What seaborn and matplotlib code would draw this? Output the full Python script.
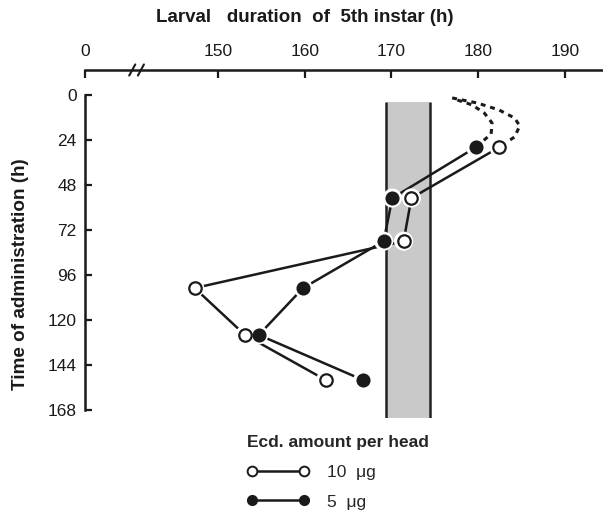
import matplotlib
matplotlib.use("Agg")
import matplotlib.pyplot as plt
import seaborn as sns
import pandas as pd
from matplotlib.lines import Line2D

# ---- data ----
time_h = [28, 55, 78, 103, 128, 152]
dur_10ug = [182.4, 172.3, 171.4, 147.3, 153.1, 162.4]
dur_5ug = [179.7, 170.1, 169.1, 159.8, 154.7, 166.7]

# dashed early-phase curves (extrapolation towards time 0)
curve10_x = [177.0, 179.9, 182.4, 184.2, 184.8, 184.2, 182.4]
curve10_y = [1.6, 4.3, 8.0, 12.3, 16.5, 22.4, 28.0]
curve5_x = [177.6, 179.3, 180.7, 181.6, 181.5, 179.7]
curve5_y = [2.7, 5.3, 9.6, 14.9, 20.8, 28.0]

# control band (normal larval duration)
band_lo, band_hi = 169.4, 174.5
band_t0, band_t1 = 3.7, 172.3

x_ticks = [150, 160, 170, 180, 190]
y_ticks = [0, 24, 48, 72, 96, 120, 144, 168]

sns.set_style("white")
plt.rcParams["font.family"] = ["Liberation Sans", "DejaVu Sans"]

fig = plt.figure(figsize=(6.03, 5.16), dpi=100)
ax = fig.add_axes([85 / 603, 1 - 418 / 516, 1 - 85 / 603, 348 / 516])

x_left = 150 - (218 - 86) / 8.6
ax.set_xlim(x_left, 194.4)
ax.set_ylim(172.3, -13.3)

# band
ax.fill_betweenx([band_t0, band_t1], band_lo, band_hi, color="#c9c9c9", lw=0, zorder=1)
ax.vlines([band_lo, band_hi], band_t0, band_t1, color="#222222", lw=1.8, zorder=2)

df10 = pd.DataFrame({"dur": dur_10ug, "time": time_h})
df5 = pd.DataFrame({"dur": dur_5ug, "time": time_h})

for df in (df10, df5):
    sns.lineplot(data=df, x="dur", y="time", sort=False, estimator=None,
                 color="#1a1a1a", lw=1.8, ax=ax, zorder=3)

sns.lineplot(x=curve10_x, y=curve10_y, sort=False, estimator=None, color="#1a1a1a",
             lw=2.2, ax=ax, zorder=3, dashes=False, linestyle=(0, (1.6, 1.6)))
sns.lineplot(x=curve5_x, y=curve5_y, sort=False, estimator=None, color="#1a1a1a",
             lw=2.2, ax=ax, zorder=3, dashes=False, linestyle=(0, (1.6, 1.6)))

# white halos to make gaps around markers
for df in (df10, df5):
    sns.scatterplot(data=df, x="dur", y="time", s=190, color="white",
                    edgecolor="none", ax=ax, zorder=4)
sns.scatterplot(data=df10, x="dur", y="time", s=80, color="white",
                edgecolor="#1a1a1a", linewidth=1.6, ax=ax, zorder=5)
sns.scatterplot(data=df5, x="dur", y="time", s=80, color="#1a1a1a",
                edgecolor="#1a1a1a", linewidth=1.2, ax=ax, zorder=5)

# axes styling
for s in ("right", "bottom"):
    ax.spines[s].set_visible(False)
ax.spines["left"].set_bounds(0, 168)
ax.spines["left"].set_linewidth(1.8)
ax.spines["top"].set_linewidth(1.8)
ax.spines["left"].set_color("#1a1a1a")
ax.spines["top"].set_color("#1a1a1a")

ax.xaxis.tick_top()
ax.xaxis.set_label_position("top")
ax.set_xticks([x_left] + x_ticks)
ax.set_xticklabels(["0"] + [str(v) for v in x_ticks])
ax.set_yticks(y_ticks)
ax.set_yticklabels([str(v) for v in y_ticks])
ax.tick_params(axis="x", direction="in", length=6, width=1.6, pad=8,
               labelsize=12.5, colors="#1a1a1a", top=True, bottom=False)
ax.tick_params(axis="y", direction="in", length=5, width=1.6, pad=6,
               labelsize=12.5, colors="#1a1a1a", left=True)

ax.set_xlabel("Larval   duration  of  5th instar (h)", fontsize=13.5,
              fontweight="bold", color="#1a1a1a")
ax.xaxis.set_label_coords((305 - 85) / 518, 1 + 52 / 348)
ax.set_ylabel("Time of administration (h)", fontsize=13.6, fontweight="bold",
              color="#1a1a1a")
ax.yaxis.set_label_coords(-(85 - 21) / 518, 1 - (274 - 70) / 348)
ax.yaxis.label.set_va("center")
ax.xaxis.label.set_va("center")

# axis break marks
brk = ax.get_xaxis_transform()
for bx in (140.1, 141.1):
    ax.plot([bx - 0.35, bx + 0.35], [1 - 0.016, 1 + 0.016], transform=brk,
            color="#1a1a1a", lw=1.5, clip_on=False, zorder=6)

# legend
h10 = Line2D([], [], color="#1a1a1a", lw=1.8, marker="o", markersize=7,
             markerfacecolor="white", markeredgecolor="#1a1a1a", markeredgewidth=1.4)
h5 = Line2D([], [], color="#1a1a1a", lw=1.8, marker="o", markersize=7,
            markerfacecolor="#1a1a1a", markeredgecolor="#1a1a1a")
leg = fig.legend([h10, h5], ["10  μg", "5  μg"], numpoints=2,
                 title="Ecd. amount per head", loc="upper left",
                 bbox_to_anchor=(238 / 603, 1 - 426 / 516), frameon=False,
                 fontsize=12.5, handlelength=3.6, handletextpad=1.0,
                 labelspacing=0.85, borderpad=0)
leg.get_title().set_fontweight("bold")
leg.get_title().set_fontsize(12.5)
leg._legend_box.align = "left"

fig.savefig("out.png", dpi=100)
